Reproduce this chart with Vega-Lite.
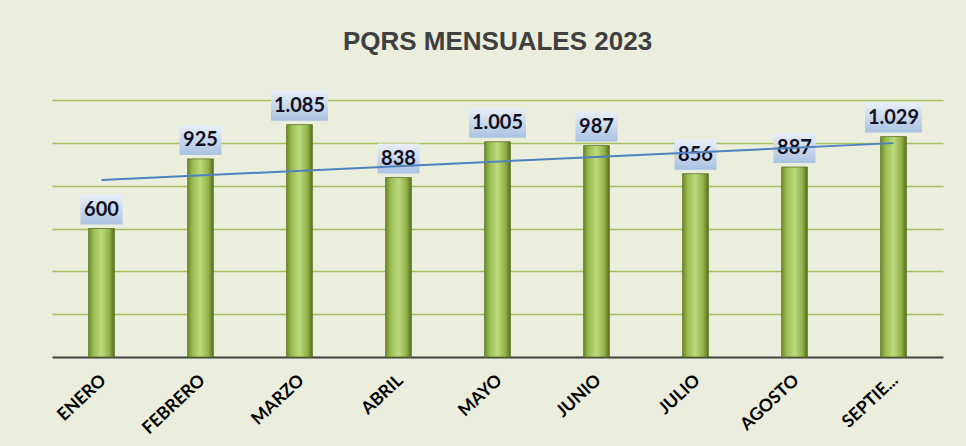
{
  "$schema": "https://vega.github.io/schema/vega-lite/v6.json",
  "autosize": {"type": "none"},
  "width": 891,
  "height": 257,
  "padding": {"left": 52, "top": 100, "right": 23, "bottom": 89},
  "background": "#ebeedd",
  "title": {
    "text": "PQRS MENSUALES 2023",
    "anchor": "middle",
    "offset": 36,
    "font": "Liberation Sans",
    "fontSize": 26,
    "fontWeight": "bold",
    "color": "#404040"
  },
  "config": {
    "view": {"stroke": null},
    "locale": {"number": {"decimal": ",", "thousands": ".", "grouping": [3], "currency": ["$", ""]}}
  },
  "data": {
    "values": [
      {"n": 1, "mes": "ENERO", "valor": 600},
      {"n": 2, "mes": "FEBRERO", "valor": 925},
      {"n": 3, "mes": "MARZO", "valor": 1085},
      {"n": 4, "mes": "ABRIL", "valor": 838},
      {"n": 5, "mes": "MAYO", "valor": 1005},
      {"n": 6, "mes": "JUNIO", "valor": 987},
      {"n": 7, "mes": "JULIO", "valor": 856},
      {"n": 8, "mes": "AGOSTO", "valor": 887},
      {"n": 9, "mes": "SEPTIEMBRE", "valor": 1029}
    ]
  },
  "resolve": {"scale": {"x": "independent"}},
  "layer": [
    {
      "encoding": {
        "x": {
          "field": "mes", "type": "nominal", "sort": null,
          "scale": {"paddingInner": 0.74},
          "axis": {
            "title": null, "labelAngle": -43, "ticks": false, "grid": false,
            "domainColor": "#404040", "domainWidth": 2,
            "labelFont": "Lato", "labelFontWeight": "bold", "labelFontSize": 17.5,
            "labelColor": "#000000", "labelPadding": 14, "labelOffset": -4,
            "labelExpr": "datum.label == 'SEPTIEMBRE' ? 'SEPTIE...' : datum.label"
          }
        },
        "y": {
          "field": "valor", "type": "quantitative",
          "scale": {"domain": [0, 1200], "nice": false},
          "axis": {
            "title": null, "labels": false, "ticks": false, "domain": false,
            "values": [200, 400, 600, 800, 1000, 1200],
            "gridColor": "#a5c05e", "gridWidth": 1.5
          }
        }
      },
      "layer": [
        {
          "mark": {
            "type": "bar",
            "stroke": "#5a7320", "strokeWidth": 0.8,
            "color": {
              "gradient": "linear", "x1": 0, "x2": 1, "y1": 0, "y2": 0,
              "stops": [
                {"offset": 0, "color": "#6d8c26"},
                {"offset": 0.2, "color": "#9cbd55"},
                {"offset": 0.5, "color": "#bcd97c"},
                {"offset": 0.8, "color": "#93b34c"},
                {"offset": 1, "color": "#56701c"}
              ]
            }
          }
        },
        {
          "mark": {
            "type": "point", "filled": true, "yOffset": -19, "opacity": 1,
            "size": 900,
            "fill": {
              "gradient": "linear", "x1": 0, "x2": 0, "y1": 0, "y2": 1,
              "stops": [
                {"offset": 0, "color": "#e9eff8"},
                {"offset": 1, "color": "#a9c2e2"}
              ]
            }
          },
          "encoding": {
            "shape": {
              "condition": {"test": "datum.valor >= 1000", "value": "M-1.9,-1 L1.9,-1 L1.9,1 L-1.9,1 Z"},
              "value": "M-1.4,-1 L1.4,-1 L1.4,1 L-1.4,1 Z"
            }
          }
        },
        {
          "mark": {
            "type": "text", "yOffset": -19, "baseline": "middle",
            "font": "Lato", "fontWeight": "bold", "fontSize": 20, "color": "#111122"
          },
          "encoding": {
            "text": {"field": "valor", "type": "quantitative", "format": ",d"}
          }
        }
      ]
    },
    {
      "transform": [{"regression": "valor", "on": "n", "extent": [1, 9]}],
      "mark": {"type": "line", "color": "#4f81bd", "strokeWidth": 2},
      "encoding": {
        "x": {"field": "n", "type": "quantitative", "scale": {"domain": [0.5, 9.5], "nice": false, "zero": false}, "axis": null},
        "y": {"field": "valor", "type": "quantitative"}
      }
    }
  ]
}
